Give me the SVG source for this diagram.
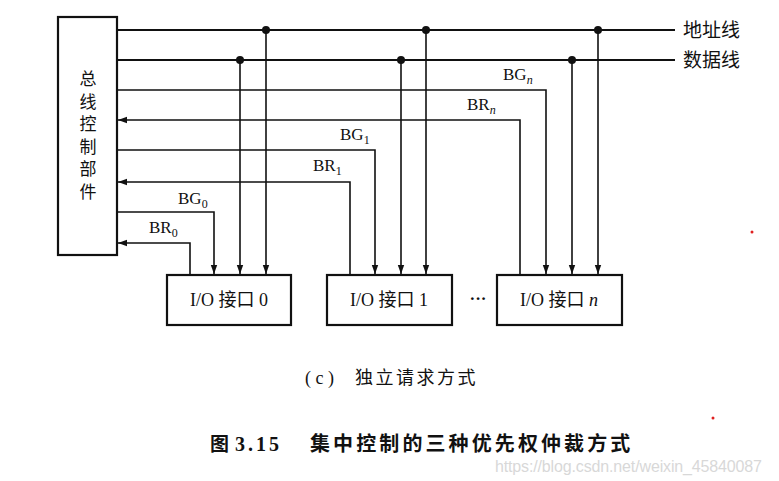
<svg xmlns="http://www.w3.org/2000/svg" width="779" height="481" viewBox="0 0 779 481">
<style>
.ln{stroke:#111;stroke-width:1.6;fill:none}
.bus{stroke:#111;stroke-width:2;fill:none}
.box{stroke:#111;stroke-width:2.2;fill:#fff}
.t{font-family:"Liberation Serif","Noto Sans CJK SC",serif;fill:#111}
.c{font-family:"Noto Sans CJK SC",sans-serif;fill:#111}
.dot{fill:#111}
</style>
<defs>
<marker id="ar" markerUnits="userSpaceOnUse" markerWidth="10" markerHeight="8" refX="9" refY="4" orient="auto">
<path d="M0,0.8 L9,4 L0,7.2 Z" fill="#111"/>
</marker>
</defs>
<rect width="779" height="481" fill="#fff"/>

<g id="connectors">
<line class="bus" x1="117" y1="30" x2="675" y2="30"/>
<line class="bus" x1="117" y1="60" x2="675" y2="60"/>
<circle class="dot" cx="266" cy="30" r="4"/>
<circle class="dot" cx="426" cy="30" r="4"/>
<circle class="dot" cx="598" cy="30" r="4"/>
<circle class="dot" cx="240" cy="60" r="4"/>
<circle class="dot" cx="401" cy="60" r="4"/>
<circle class="dot" cx="572" cy="60" r="4"/>
<line class="ln" x1="266" y1="30" x2="266" y2="274" marker-end="url(#ar)"/>
<line class="ln" x1="240" y1="60" x2="240" y2="274" marker-end="url(#ar)"/>
<line class="ln" x1="426" y1="30" x2="426" y2="274" marker-end="url(#ar)"/>
<line class="ln" x1="401" y1="60" x2="401" y2="274" marker-end="url(#ar)"/>
<line class="ln" x1="598" y1="30" x2="598" y2="274" marker-end="url(#ar)"/>
<line class="ln" x1="572" y1="60" x2="572" y2="274" marker-end="url(#ar)"/>
<polyline class="ln" points="117,90 546,90 546,274" marker-end="url(#ar)"/>
<polyline class="ln" points="117,150 375,150 375,274" marker-end="url(#ar)"/>
<polyline class="ln" points="117,212 214,212 214,274" marker-end="url(#ar)"/>
<polyline class="ln" points="520,275 520,120 118,120" marker-end="url(#ar)"/>
<polyline class="ln" points="350,275 350,182 118,182" marker-end="url(#ar)"/>
<polyline class="ln" points="190,275 190,243 118,243" marker-end="url(#ar)"/>
</g>

<g id="bus-controller">
<rect class="box" x="58" y="17" width="59" height="238"/>
<text class="c" x="88" y="70" font-size="17" writing-mode="vertical-rl" letter-spacing="5.6">总线控制部件</text>
</g>

<g id="io0">
<rect class="box" x="167" y="275" width="124" height="50"/>
<text class="t" x="229" y="306" font-size="18" text-anchor="middle">I/O 接口 0</text>
</g>
<g id="io1">
<rect class="box" x="327" y="275" width="125" height="50"/>
<text class="t" x="389" y="306" font-size="18" text-anchor="middle">I/O 接口 1</text>
</g>
<g id="ion">
<rect class="box" x="497" y="275" width="125" height="50"/>
<text class="t" x="559" y="306" font-size="18" text-anchor="middle">I/O 接口 <tspan font-style="italic">n</tspan></text>
</g>
<text class="t" x="478" y="304" font-size="17" text-anchor="middle" font-weight="bold">···</text>

<g id="labels">
<text class="c" x="683" y="37" font-size="19">地址线</text>
<text class="c" x="683" y="67" font-size="19">数据线</text>
<text class="t" x="503" y="80" font-size="17">BG<tspan font-size="12" dy="4" font-style="italic">n</tspan></text>
<text class="t" x="467" y="110" font-size="17">BR<tspan font-size="12" dy="4" font-style="italic">n</tspan></text>
<text class="t" x="340" y="140" font-size="17">BG<tspan font-size="12" dy="4">1</tspan></text>
<text class="t" x="313" y="171" font-size="17">BR<tspan font-size="12" dy="4">1</tspan></text>
<text class="t" x="178" y="204" font-size="17">BG<tspan font-size="12" dy="4">0</tspan></text>
<text class="t" x="149" y="233" font-size="17">BR<tspan font-size="12" dy="4">0</tspan></text>
</g>

<g id="captions">
<text class="t" x="305" y="384" font-size="18">( c )</text>
<text class="c" x="355" y="384" font-size="18" letter-spacing="2.5">独立请求方式</text>
<text class="c" x="210" y="451" font-size="19" font-weight="bold">图</text>
<text class="t" x="235" y="451" font-size="20" font-weight="bold" letter-spacing="3">3.15</text>
<text class="c" x="310" y="451" font-size="20" font-weight="bold" letter-spacing="3.1">集中控制的三种优先权仲裁方式</text>
<text x="495" y="472" font-size="16" font-family="Liberation Sans, sans-serif" fill="#d8d8d8" textLength="267">https://blog.csdn.net/weixin_45840087</text>
</g>
<circle cx="752" cy="232" r="1.5" fill="#e02020"/>
<circle cx="713" cy="418" r="1.5" fill="#e02020"/>
</svg>
